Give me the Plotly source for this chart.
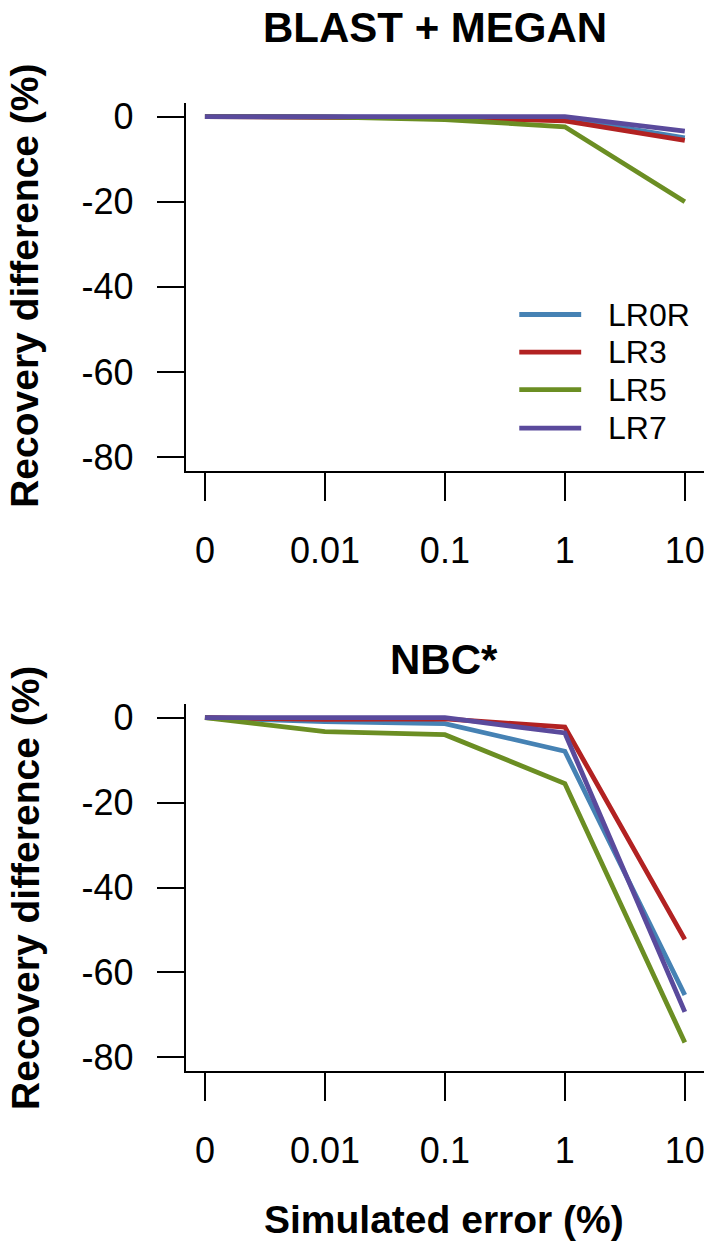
import plotly.graph_objects as go

# ---- data ----
categories = ["0", "0.01", "0.1", "1", "10"]
series_names = ["LR0R", "LR3", "LR5", "LR7"]
series_colors = ["#4682B4", "#B22222", "#6B8E23", "#5A4A9C"]

blast_lr0r = [0, -0.1, -0.2, -0.4, -5.0]
blast_lr3 = [0, -0.2, -0.3, -1.0, -5.6]
blast_lr5 = [0, -0.1, -0.7, -2.4, -20.0]
blast_lr7 = [0, 0, 0, 0, -3.4]

nbc_lr0r = [0, -0.9, -1.4, -7.9, -65.3]
nbc_lr3 = [0, -0.4, -0.3, -2.2, -52.2]
nbc_lr5 = [0, -3.3, -4.0, -15.5, -76.5]
nbc_lr7 = [0, 0, 0, -3.6, -69.3]

y_ticks = [0, -20, -40, -60, -80]

W, H = 715, 1249
FONT = "Liberation Sans, Arial, sans-serif"

def px_x(p):
    return p / W

def px_y(p):
    return 1 - p / H

fig = go.Figure()
xs = list(range(1, len(categories) + 1))

panels = [
    ("x", "y", [blast_lr0r, blast_lr3, blast_lr5, blast_lr7]),
    ("x2", "y2", [nbc_lr0r, nbc_lr3, nbc_lr5, nbc_lr7]),
]
for xa, ya, data in panels:
    for name, color, vals in zip(series_names, series_colors, data):
        fig.add_trace(go.Scatter(
            x=xs, y=vals, mode="lines", name=name, xaxis=xa, yaxis=ya,
            line=dict(color=color, width=4.8), showlegend=False,
        ))

xdom = [px_x(186), px_x(705)]
top_dom = [px_y(469), px_y(97)]
bot_dom = [px_y(1076), px_y(705)]

xaxis_common = dict(
    domain=xdom, range=[0.84, 5.16], tickmode="array", tickvals=xs,
    ticktext=categories, ticks="outside", ticklen=28, tickwidth=2,
    tickcolor="black", showline=True, linecolor="black", linewidth=2,
    showgrid=False, zeroline=False, ticklabelstandoff=19,
    tickfont=dict(family=FONT, size=36, color="black"), fixedrange=True,
)
yaxis_common = dict(
    range=[-83.2, 3.2], tickmode="array", tickvals=y_ticks,
    ticktext=[str(v) for v in y_ticks], ticks="outside", ticklen=27,
    tickwidth=2, tickcolor="black", showline=True, linecolor="black",
    linewidth=2, showgrid=False, zeroline=False, ticklabelstandoff=16,
    tickfont=dict(family=FONT, size=36, color="black"), fixedrange=True,
)

fig.update_layout(
    width=W, height=H, margin=dict(l=0, r=0, t=0, b=0),
    plot_bgcolor="white", paper_bgcolor="white",
    xaxis=dict(**xaxis_common, anchor="y"),
    yaxis=dict(**yaxis_common, domain=top_dom, anchor="x"),
    xaxis2=dict(**xaxis_common, anchor="y2"),
    yaxis2=dict(**yaxis_common, domain=bot_dom, anchor="x2"),
)

annotations = [
    dict(text="<b>BLAST + MEGAN</b>", x=px_x(436), y=px_y(21), font=dict(size=42)),
    dict(text="<b>NBC*</b>", x=px_x(445), y=px_y(660), font=dict(size=42)),
    dict(text="<b>Simulated error (%)</b>", x=px_x(445), y=px_y(1226), font=dict(size=39)),
    dict(text="<b>Recovery difference (%)</b>", x=px_x(25), y=px_y(282), font=dict(size=39), textangle=-90),
    dict(text="<b>Recovery difference (%)</b>", x=px_x(25), y=px_y(891), font=dict(size=39), textangle=-90),
]
for a in annotations:
    a.update(xref="paper", yref="paper", xanchor="center", yanchor="middle",
             showarrow=False)
    a["font"].update(family=FONT, color="black")
    fig.add_annotation(**a)

# legend (top panel)
leg_rows = [311, 349, 387, 426]
for name, color, ry in zip(series_names, series_colors, leg_rows):
    fig.add_shape(type="line", xref="paper", yref="paper",
                  x0=px_x(520), x1=px_x(582), y0=px_y(ry), y1=px_y(ry),
                  line=dict(color=color, width=4.8))
    fig.add_annotation(text=name, xref="paper", yref="paper", x=px_x(607),
                       y=px_y(ry), xanchor="left", yanchor="middle",
                       showarrow=False,
                       font=dict(family=FONT, size=32, color="black"))

fig.write_html(
    "out.html",
    config={"displayModeBar": False},
    post_script="document.body.style.margin='0';document.body.style.padding='0';",
)
